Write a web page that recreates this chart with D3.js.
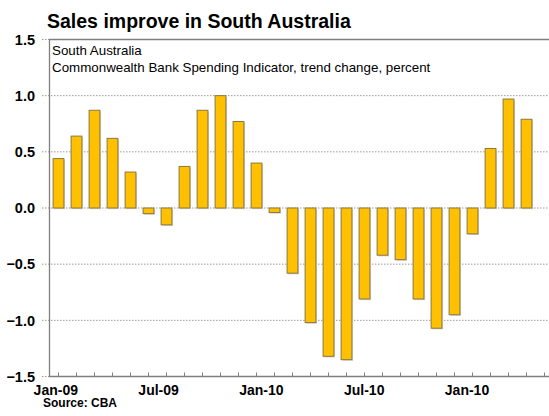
<!DOCTYPE html>
<html><head><meta charset="utf-8">
<script src="https://cdn.jsdelivr.net/npm/d3@7/dist/d3.min.js"></script>
<style>
html,body{margin:0;padding:0;background:#fff;}
svg{display:block;font-family:"Liberation Sans",Arial,sans-serif;}
</style></head>
<body><svg id="c" width="549" height="416"></svg>
<script>
const months = ["Jan-09","Feb-09","Mar-09","Apr-09","May-09","Jun-09","Jul-09","Aug-09","Sep-09","Oct-09","Nov-09","Dec-09",
"Jan-10","Feb-10","Mar-10","Apr-10","May-10","Jun-10","Jul-10","Aug-10","Sep-10","Oct-10","Nov-10","Dec-10",
"Jan-11","Feb-11","Mar-11","Apr-11"];
const values = [0.44,0.64,0.87,0.62,0.32,-0.05,-0.15,0.37,0.87,1.00,0.77,0.40,
-0.04,-0.58,-1.02,-1.32,-1.35,-0.81,-0.42,-0.46,-0.81,-1.07,-0.95,-0.23,
0.53,0.97,0.79];
const yTicks = [-1.5,-1.0,-0.5,0.0,0.5,1.0,1.5];
const xLabelIdx = [0,6,12,18,24];
const xLabels = ["Jan-09","Jul-09","Jan-10","Jul-10","Jan-10"];
const title = "Sales improve in South Australia";
const subtitle = ["South Australia","Commonwealth Bank Spending Indicator, trend change, percent"];
const source = "Source: CBA";

const svg = d3.select("#c");
const L = 49.5, T = 39.5, B = 376.5, R = 560;
const x = d3.scaleBand().domain(months).range([L, 553.5]).paddingInner(0.4).paddingOuter(0.2);
const y = d3.scaleLinear().domain([-1.5,1.5]).range([B, T]);
const xl = d3.scaleLinear().domain([0,24]).range([55.8,467]);

// gridlines
svg.append("g").selectAll("line").data(yTicks).join("line")
  .attr("x1",42).attr("x2",d => (d===1.5||d===-1.5)?L:R)
  .attr("y1",d=>y(d)).attr("y2",d=>y(d))
  .attr("stroke","#9a9a9a").attr("stroke-width",1).attr("stroke-dasharray","1.5,1.5");

// y labels
svg.append("g").selectAll("text").data(yTicks).join("text")
  .attr("x",35).attr("y",d=>y(d)).attr("dy","0.36em")
  .attr("text-anchor","end").attr("font-weight","bold").attr("font-size","14.5px").attr("fill","#000")
  .text(d=>d3.format(".1f")(d));

const data = values.map((v,i)=>({m:months[i],v}));
// shadow
svg.append("g").selectAll("rect").data(data).join("rect")
  .attr("x",d=>x(d.m)+1.2).attr("width",x.bandwidth())
  .attr("y",d=>Math.min(y(d.v),y(0))+1.2).attr("height",d=>Math.abs(y(d.v)-y(0)))
  .attr("fill","#d4d4d4");
// bars
svg.append("g").selectAll("rect").data(data).join("rect")
  .attr("x",d=>x(d.m)).attr("width",x.bandwidth())
  .attr("y",d=>Math.min(y(d.v),y(0))).attr("height",d=>Math.abs(y(d.v)-y(0)))
  .attr("fill","#FFC000").attr("stroke","#8a7840").attr("stroke-width",1);

// frame
svg.append("path").attr("d",`M${R},${T}H${L}V${B}H${R}`).attr("fill","none")
  .attr("stroke","#7f7f7f").attr("stroke-width",1.3);
// x ticks
svg.append("g").selectAll("line").data(months).join("line")
  .attr("x1",d=>x(d)+x.bandwidth()/2).attr("x2",d=>x(d)+x.bandwidth()/2)
  .attr("y1",B).attr("y2",B-4).attr("stroke","#7f7f7f").attr("stroke-width",1);

// x labels
svg.append("g").selectAll("text").data(xLabelIdx).join("text")
  .attr("x",d=>xl(d)).attr("y",395).attr("text-anchor","middle")
  .attr("font-weight","bold").attr("font-size","14px").attr("fill","#000")
  .text((d,i)=>xLabels[i]);

// title
svg.append("text").attr("x",47).attr("y",28).attr("font-weight","bold").attr("font-size","19.5px").text(title);
svg.append("g").selectAll("text").data(subtitle).join("text")
  .attr("x",52).attr("y",(d,i)=>55+i*17).attr("font-size","13.35px").text(d=>d);
svg.append("text").attr("x",43).attr("y",407).attr("font-weight","bold").attr("font-size","12px").text(source);
</script></body></html>
